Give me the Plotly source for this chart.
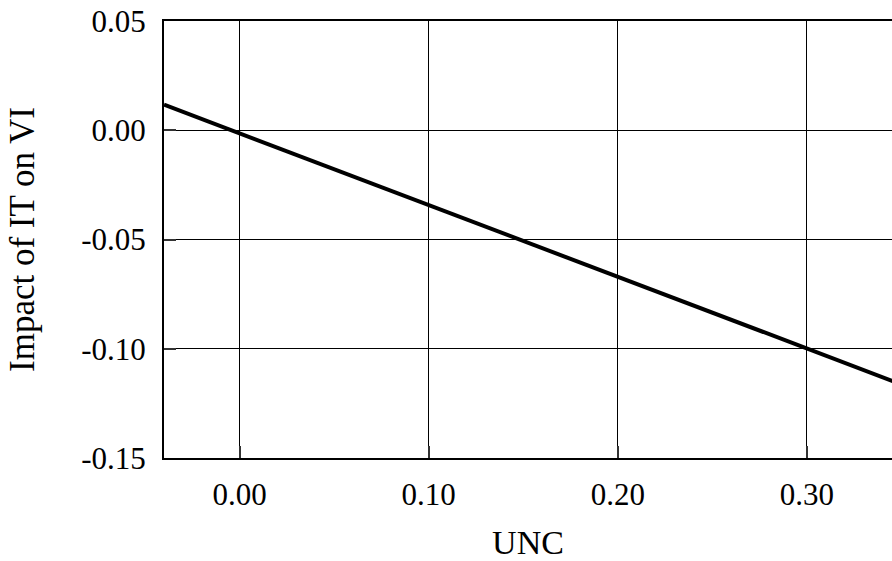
import plotly.graph_objects as go

unc = [-0.04, 0.35]
impact = [0.0117, -0.1163]
x_ticks = [0.0, 0.1, 0.2, 0.3]
x_labels = ["0.00", "0.10", "0.20", "0.30"]
y_ticks = [-0.15, -0.10, -0.05, 0.0, 0.05]
y_labels = ["-0.15", "-0.10", "-0.05", "0.00", "0.05"]

font = "Liberation Serif"

fig = go.Figure()
fig.add_trace(go.Scatter(x=unc, y=impact, mode="lines",
                         line=dict(color="black", width=4), showlegend=False))

fig.update_layout(
    width=892, height=561,
    margin=dict(l=164, r=0, t=21, b=103, autoexpand=False),
    paper_bgcolor="white", plot_bgcolor="white",
    font=dict(family=font, size=31, color="black"),
)
fig.update_xaxes(
    range=[-0.04, 0.345], tickvals=x_ticks, ticktext=x_labels,
    showgrid=True, gridcolor="black", gridwidth=1,
    showline=True, linecolor="black", linewidth=2, mirror=True,
    ticks="inside", ticklen=12, tickcolor="#333", tickwidth=2,
    ticklabelstandoff=8, zeroline=False, automargin=False,
    ticklabeloverflow="allow",
    title=dict(text="UNC", font=dict(size=34), standoff=21),
)
fig.update_yaxes(
    range=[-0.15, 0.05], tickvals=y_ticks, ticktext=y_labels,
    showgrid=True, gridcolor="black", gridwidth=1,
    showline=True, linecolor="black", linewidth=2, mirror=True,
    ticks="inside", ticklen=12, tickcolor="#333", tickwidth=2,
    ticklabelstandoff=10, zeroline=False, automargin=True,
    ticklabeloverflow="allow",
    title=dict(text="Impact of IT on VI", font=dict(size=35), standoff=36),
)

fig.write_html("out.html", config={"displayModeBar": False},
               post_script="document.body.style.margin='0';")
